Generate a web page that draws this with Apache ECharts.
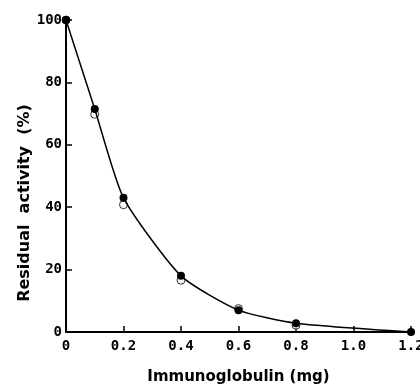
<!DOCTYPE html>
<html><head><meta charset="utf-8">
<script src="https://cdn.jsdelivr.net/npm/echarts@6/dist/echarts.min.js"></script>
<style>html,body{margin:0;padding:0;background:#fff}#c{width:420px;height:387px}</style>
</head><body><div id="c"></div>
<script>
const doses = [0, 0.1, 0.2, 0.4, 0.6, 0.8, 1.2];
const filledValues = [100, 71.5, 43, 18, 7, 2.8, 0];
const openValues = [100, 69.8, 40.8, 16.6, 7.5, 2.2, -0.3];
const xTicks = ['0', '0.2', '0.4', '0.6', '0.8', '1.0', '1.2'];
const yTicks = ['0', '20', '40', '60', '80', '100'];
const xTitle = 'Immunoglobulin (mg)';
const yTitle = 'Residual  activity  (%)';

const chart = echarts.init(document.getElementById('c'), null, {renderer: 'canvas'});
const tickFont = {color: '#000', fontFamily: 'DejaVu Sans Mono', fontWeight: 'bold', fontSize: 14};
chart.setOption({
  animation: false,
  backgroundColor: '#fff',
  grid: {left: 66, right: 9, top: 20, bottom: 55, outerBoundsMode: 'none', containLabel: false},
  graphic: [{
    type: 'text', x: 17, y: 203, rotation: Math.PI / 2,
    style: {text: yTitle, fill: '#000', font: 'bold 16px "DejaVu Sans"', textAlign: 'center', textVerticalAlign: 'top'}
  }],
  xAxis: {
    type: 'value', min: 0, max: 1.2, interval: 0.2,
    name: xTitle, nameLocation: 'middle', nameGap: 38,
    nameTextStyle: {color: '#000', fontFamily: 'DejaVu Sans', fontWeight: 'bold', fontSize: 15},
    axisLine: {lineStyle: {color: '#000', width: 2}},
    axisTick: {inside: true, length: 6, lineStyle: {color: '#000', width: 1.5}},
    axisLabel: Object.assign({margin: 7, formatter: (v) => xTicks[Math.round(v / 0.2)]}, tickFont),
    splitLine: {show: false}
  },
  yAxis: {
    type: 'value', min: 0, max: 100, interval: 20,
    axisLine: {lineStyle: {color: '#000', width: 2}},
    axisTick: {inside: true, length: 6, lineStyle: {color: '#000', width: 1.5}},
    axisLabel: Object.assign({margin: 4, formatter: (v) => yTicks[Math.round(v / 20)]}, tickFont),
    splitLine: {show: false}
  },
  series: [
    {
      type: 'line', smooth: 0.2,
      data: doses.map((d, i) => [d, filledValues[i]]),
      symbol: 'circle', symbolSize: 8,
      lineStyle: {color: '#000', width: 1.5},
      itemStyle: {color: '#000'},
      z: 3
    },
    {
      type: 'scatter',
      data: doses.map((d, i) => [d, openValues[i]]),
      symbol: 'circle', symbolSize: 8,
      itemStyle: {color: '#fff', borderColor: '#000', borderWidth: 1},
      z: 2
    }
  ]
});
</script></body></html>
